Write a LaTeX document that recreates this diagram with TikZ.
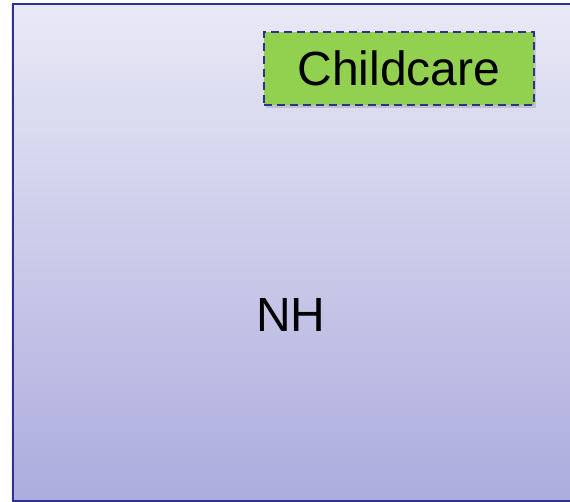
\documentclass[tikz,border=0pt]{standalone}
\usepackage{fontspec}
\setmainfont{Liberation Sans}
\definecolor{nhblue}{HTML}{2E3192}
\definecolor{nhtop}{HTML}{E9E9F6}
\definecolor{nhbot}{HTML}{ACACDE}
\definecolor{ccgreen}{HTML}{92D050}
\usetikzlibrary{shadows,positioning}
\begin{document}
\begin{tikzpicture}[
  x=1pt,y=-1pt,
  font=\fontsize{48}{57}\selectfont,
  zone/.style={draw=nhblue,line width=2.2pt,top color=nhtop,bottom color=nhbot,inner sep=0pt,
    drop shadow={shadow xshift=-2pt,shadow yshift=0pt,opacity=.15}},
  tag/.style={draw=nhblue,line width=1.8pt,dash pattern=on 8pt off 5pt,fill=ccgreen,inner sep=0pt,
    minimum width=270pt,minimum height=73pt,
    drop shadow={shadow xshift=2pt,shadow yshift=-3pt,opacity=.3}}]
\useasboundingbox (0,0) rectangle (570,502);
\clip (0,0) rectangle (570,502);
% neighbourhood area
\node[zone,minimum width=568pt,minimum height=497pt,anchor=north west] (nh) at (12,3) {};
\node (nhlbl) at (291,315) {NH};
% service inside it
\node[tag,anchor=north west] (care) at (263,31) {Childcare};
\end{tikzpicture}
\end{document}
